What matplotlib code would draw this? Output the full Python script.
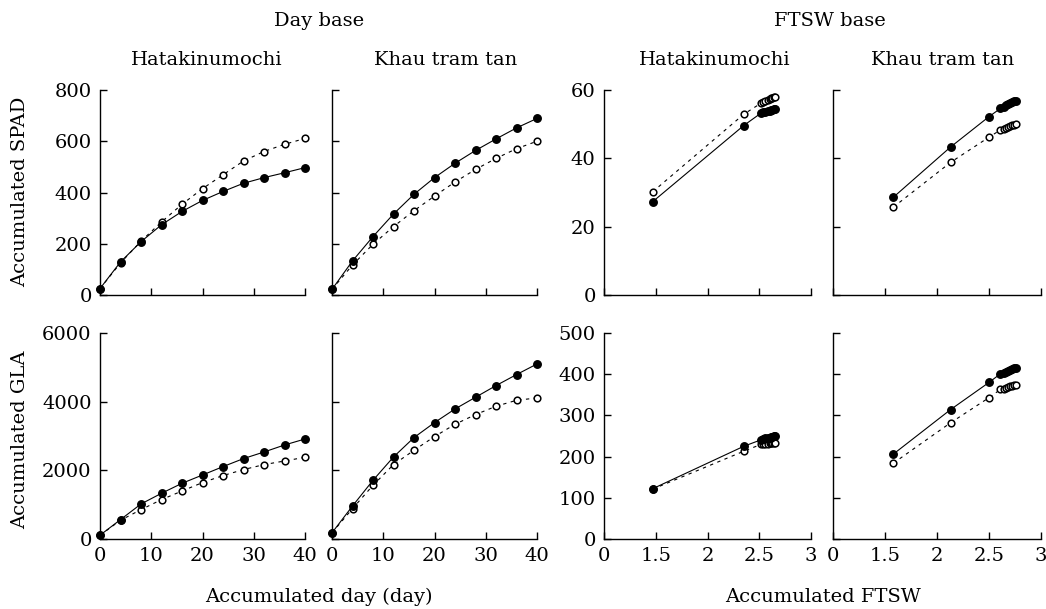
import matplotlib
matplotlib.use('Agg')
import matplotlib.pyplot as plt

plt.rcParams['font.family'] = 'DejaVu Serif'
plt.rcParams['font.size'] = 14

days = [0, 4, 8, 12, 16, 20, 24, 28, 32, 36, 40]

# Day base, SPAD
spad_hk_f = [25, 129, 208, 274, 326, 369, 404, 436, 458, 477, 497]
spad_hk_o = [25, 125, 210, 285, 354, 415, 469, 523, 560, 588, 611]
spad_kt_f = [22, 133, 228, 316, 393, 458, 514, 564, 609, 652, 689]
spad_kt_o = [22, 117, 198, 267, 329, 386, 441, 490, 533, 571, 600]

# Day base, GLA
gla_hk_f = [110, 565, 1020, 1331, 1622, 1864, 2108, 2342, 2534, 2738, 2913]
gla_hk_o = [110, 545, 856, 1147, 1398, 1643, 1847, 2022, 2167, 2272, 2380]
gla_kt_f = [180, 961, 1710, 2389, 2954, 3390, 3787, 4128, 4468, 4789, 5098]
gla_kt_o = [180, 885, 1564, 2167, 2584, 2983, 3341, 3623, 3866, 4040, 4108]

# FTSW base
ftsw_hk_f = [1.47, 2.35, 2.52, 2.54, 2.56, 2.58, 2.60, 2.61, 2.62, 2.64, 2.65]
ftsw_hk_o = [1.47, 2.35, 2.52, 2.54, 2.56, 2.58, 2.60, 2.62, 2.63, 2.64, 2.65]
ftsw_kt_f = [1.58, 2.13, 2.50, 2.61, 2.64, 2.66, 2.68, 2.70, 2.72, 2.74, 2.76]
ftsw_kt_o = [1.58, 2.13, 2.50, 2.62, 2.64, 2.66, 2.68, 2.70, 2.72, 2.74, 2.76]

fspad_hk_f = [27.3, 49.6, 53.3, 53.5, 53.7, 53.8, 54.0, 54.1, 54.2, 54.3, 54.3]
fspad_hk_o = [30.2, 52.9, 56.2, 56.6, 56.9, 57.1, 57.3, 57.6, 57.8, 57.9, 58.0]
fspad_kt_f = [28.6, 43.3, 52.2, 54.6, 55.1, 55.6, 56.0, 56.3, 56.6, 56.8, 56.9]
fspad_kt_o = [25.7, 38.8, 46.2, 48.3, 48.6, 48.9, 49.2, 49.5, 49.7, 49.9, 50.0]

fgla_hk_f = [122, 225, 241, 243, 244, 245, 246, 247, 248, 249, 249]
fgla_hk_o = [121, 213, 230, 230, 231, 231, 232, 232, 233, 233, 233]
fgla_kt_f = [206, 314, 380, 401, 404, 406, 408, 410, 412, 414, 415]
fgla_kt_o = [184, 282, 343, 363, 365, 367, 369, 371, 372, 374, 375]

fig = plt.figure(figsize=(10.46, 6.09), dpi=100)
W, H = 1046.0, 609.0
lefts = [100, 332, 604, 833]
rights = [305, 537, 811, 1041]
tops = [90, 333]
bottoms = [295, 539]

def pair(ax, x, yf, yo):
    ax.plot(x, yo, linestyle=(0, (3, 4)), color='k', linewidth=0.8,
            marker='o', markersize=4.8, markerfacecolor='white',
            markeredgecolor='k', markeredgewidth=1.1, clip_on=False, zorder=3)
    ax.plot(x, yf, linestyle='-', color='k', linewidth=0.8,
            marker='o', markersize=5.4, markerfacecolor='k',
            markeredgecolor='k', clip_on=False, zorder=4)

panels = [
    [(days, spad_hk_f, spad_hk_o), (days, spad_kt_f, spad_kt_o),
     (ftsw_hk_f, fspad_hk_f, fspad_hk_o), (ftsw_kt_f, fspad_kt_f, fspad_kt_o)],
    [(days, gla_hk_f, gla_hk_o), (days, gla_kt_f, gla_kt_o),
     (ftsw_hk_f, fgla_hk_f, fgla_hk_o), (ftsw_kt_f, fgla_kt_f, fgla_kt_o)],
]

for r in range(2):
    for c in range(4):
        ax = fig.add_axes([lefts[c] / W, 1 - bottoms[r] / H,
                           (rights[c] - lefts[c]) / W, (bottoms[r] - tops[r]) / H])
        x, yf, yo = panels[r][c]
        pair(ax, x, yf, yo)
        for s in ['top', 'right']:
            ax.spines[s].set_visible(False)
        for s in ['left', 'bottom']:
            ax.spines[s].set_linewidth(1.0)
        ax.tick_params(direction='in', length=5, width=1.0, pad=6)
        if c < 2:
            ax.set_xlim(0, 40)
            ax.set_xticks([0, 10, 20, 30, 40])
        else:
            ax.set_xlim(1, 3)
            ax.set_xticks([1, 1.5, 2, 2.5, 3])
            ax.set_xticklabels(['0', '1.5', '2', '2.5', '3'])
        if r == 0:
            ax.tick_params(labelbottom=False)
            if c < 2:
                ax.set_ylim(0, 800)
                ax.set_yticks([0, 200, 400, 600, 800])
            else:
                ax.set_ylim(0, 60)
                ax.set_yticks([0, 20, 40, 60])
        else:
            if c < 2:
                ax.set_ylim(0, 6000)
                ax.set_yticks([0, 2000, 4000, 6000])
            else:
                ax.set_ylim(0, 500)
                ax.set_yticks([0, 100, 200, 300, 400, 500])
        if c in (1, 3):
            ax.tick_params(labelleft=False)

fig.text(319 / W, 1 - 21 / H, 'Day base', ha='center', va='center')
fig.text(830 / W, 1 - 21 / H, 'FTSW base', ha='center', va='center')
for xc, name in zip([207, 446, 715, 943],
                    ['Hatakinumochi', 'Khau tram tan', 'Hatakinumochi', 'Khau tram tan']):
    fig.text(xc / W, 1 - 60 / H, name, ha='center', va='center')
fig.text(20 / W, 1 - 192 / H, 'Accumulated SPAD', rotation=90, ha='center', va='center')
fig.text(20 / W, 1 - 440 / H, 'Accumulated GLA', rotation=90, ha='center', va='center')
fig.text(318.5 / W, 1 - 597 / H, 'Accumulated day (day)', ha='center', va='center')
fig.text(822.5 / W, 1 - 597 / H, 'Accumulated FTSW', ha='center', va='center')

fig.savefig('out.png', dpi=100)
